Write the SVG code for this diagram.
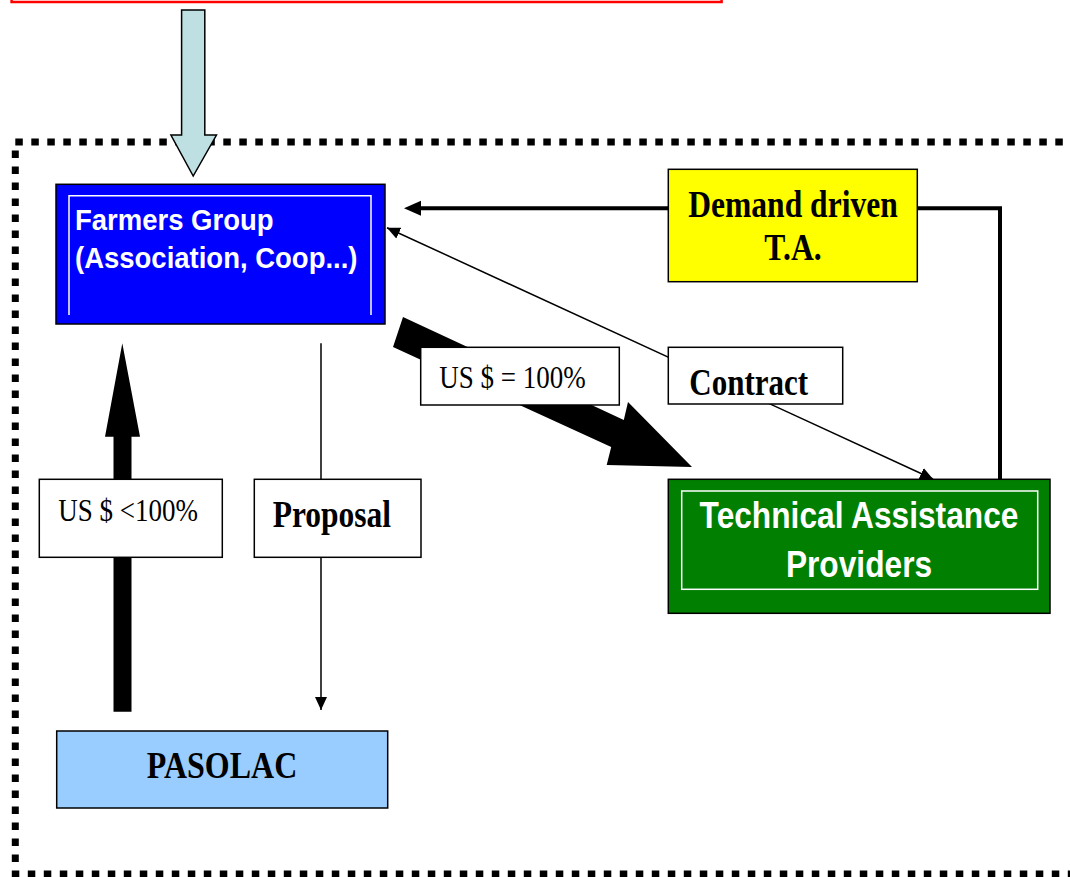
<svg xmlns="http://www.w3.org/2000/svg" width="1070" height="877" viewBox="0 0 1070 877">
<style>
.box{stroke:#000;stroke-width:1.5}
.lbl{fill:#fff;stroke:#000;stroke-width:1.5}
.sans{font-family:"Liberation Sans",Arial,sans-serif;font-weight:bold;fill:#fff}
.serifb{font-family:"Liberation Serif","Times New Roman",serif;font-weight:bold;fill:#000}
.serif{font-family:"Liberation Serif","Times New Roman",serif;fill:#000}
.thin{stroke:#000;stroke-width:1.5;fill:none}
</style>
<defs>
<marker id="ah" markerUnits="userSpaceOnUse" markerWidth="14" markerHeight="12" refX="13" refY="6" orient="auto-start-reverse">
<path d="M0,0 L13,6 L0,12 z" fill="#000"/>
</marker>
</defs>
<rect width="1070" height="877" fill="#fff"/>
<g id="border">
<rect x="15.3" y="142" width="1100" height="732" fill="none" stroke="#000" stroke-width="7" stroke-dasharray="7.5 8.5"/>
</g>
<g id="source">
<rect x="11.6" y="-30" width="710" height="32" fill="none" stroke="#FF0000" stroke-width="2.5"/>
</g>
<g id="connectors">
<polygon points="181.6,10 204.8,10 204.8,135 216.5,135 193.2,176 170.9,135 181.6,135" fill="#BEE0E2" stroke="#000" stroke-width="1.5"/>
<polyline points="1000,479 1000,208.3 419,208.3" fill="none" stroke="#000" stroke-width="4"/>
<polygon points="404,208.3 421,200.8 421,215.8" fill="#000"/>
<line x1="933" y1="479" x2="387" y2="227.7" class="thin" marker-start="url(#ah)" marker-end="url(#ah)"/>
<line x1="321" y1="343.3" x2="321" y2="710" class="thin" marker-end="url(#ah)"/>
<polygon points="113.5,711.7 113.5,436.7 105,436.7 122.3,343.3 140,436.7 131.5,436.7 131.5,711.7" fill="#000"/>
<polygon points="403,317 623.8,419.9 628,402 692,467 606.7,465 611.2,447.1 393,347" fill="#000"/>
</g>
<g id="farmers">
<rect x="56" y="184.3" width="329" height="139.7" fill="#0000FF" class="box"/>
<polyline points="69,315 69,195.7 371,195.7 371,315" fill="none" stroke="#fff" stroke-width="1.5"/>
<text class="sans" font-size="27.5" transform="translate(75,230) scale(1,1.1)">Farmers Group</text>
<text class="sans" font-size="27.5" transform="translate(75,268) scale(1,1.1)">(Association, Coop...)</text>
</g>
<g id="demand">
<rect x="668.3" y="169.3" width="249" height="112.4" fill="#FFFF00" class="box"/>
<text class="serifb" font-size="31.6" text-anchor="middle" transform="translate(793,216.7) scale(1,1.2)">Demand driven</text>
<text class="serifb" font-size="31.6" text-anchor="middle" transform="translate(793,260) scale(1,1.2)">T.A.</text>
</g>
<g id="tap">
<rect x="668.3" y="479.3" width="381.7" height="134" fill="#007F00" class="box"/>
<rect x="681.7" y="491" width="356" height="98.3" fill="none" stroke="#fff" stroke-width="1.5"/>
<text class="sans" font-size="31.7" text-anchor="middle" transform="translate(859,528.3) scale(1,1.17)">Technical Assistance</text>
<text class="sans" font-size="31.7" text-anchor="middle" transform="translate(859,576.7) scale(1,1.17)">Providers</text>
</g>
<g id="pasolac">
<rect x="56.7" y="731" width="331" height="77" fill="#99CCFF" class="box"/>
<text class="serifb" font-size="32" text-anchor="middle" transform="translate(222,778) scale(1,1.18)">PASOLAC</text>
</g>
<g id="label-us100">
<rect x="420.7" y="347.3" width="198.6" height="57.7" class="lbl"/>
<text class="serif" font-size="27" transform="translate(439.3,388) scale(1,1.18)">US $ = 100%</text>
</g>
<g id="label-contract">
<rect x="668.3" y="347.3" width="174.4" height="56.7" class="lbl"/>
<text class="serifb" font-size="31" transform="translate(689.3,395) scale(1,1.2)">Contract</text>
</g>
<g id="label-usless">
<rect x="39.3" y="479.3" width="183" height="78" class="lbl"/>
<text class="serif" font-size="27" transform="translate(58.3,521) scale(1,1.18)">US $ &lt;100%</text>
</g>
<g id="label-proposal">
<rect x="254.3" y="479.3" width="166.7" height="78" class="lbl"/>
<text class="serifb" font-size="31.5" transform="translate(272.7,526.7) scale(1,1.18)">Proposal</text>
</g>
</svg>
